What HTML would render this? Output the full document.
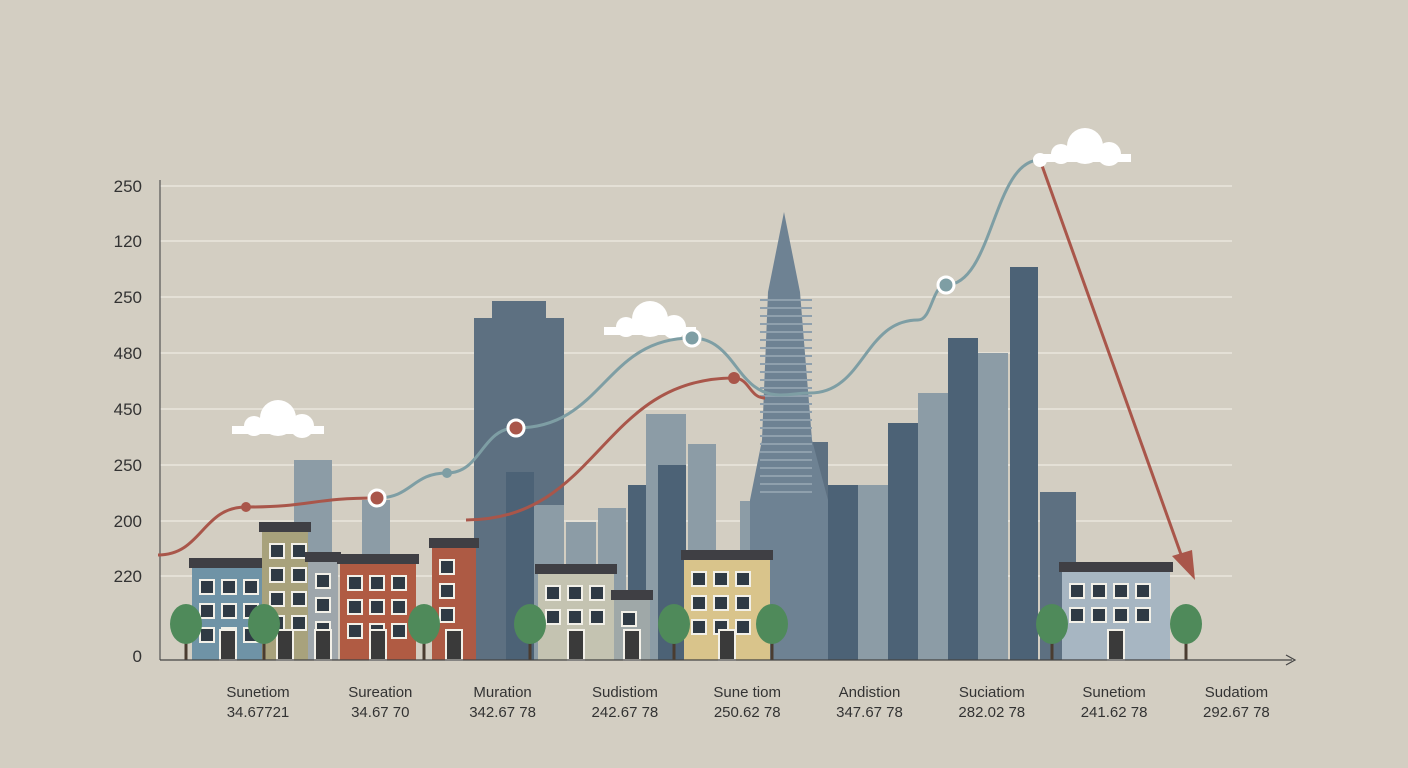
<!DOCTYPE html>
<html><head><meta charset="utf-8"><style>
body{margin:0;background:#d3cec2;}
svg{display:block;font-family:"Liberation Sans",sans-serif;}
</style></head><body>
<svg id="c" width="1408" height="768" viewBox="0 0 1408 768"></svg>
<script>
const yTickLabels=["250","120","250","480","450","250","200","220","0"];
const catNames=["Sunetiom","Sureation","Muration","Sudistiom","Sune tiom","Andistion","Suciatiom","Sunetiom","Sudatiom"];
const catValues=["34.67721","34.67 70","342.67 78","242.67 78","250.62 78","347.67 78","282.02 78","241.62 78","292.67 78"];
const barX=[294,362,474,492,506,534,566,598,628,646,658,688,740,770,798,828,858,888,918,948,978,1010,1040];
const barW=[38,28,90,54,28,30,30,28,28,40,28,28,30,28,30,30,30,30,30,30,30,28,36];
const barVal=[200,160,342,359,188,155,138,152,175,246,195,216,159,160,218,175,175,237,267,322,307,393,168];
const barTone=[1,1,0,0,2,1,1,1,2,1,2,1,1,2,0,2,1,2,1,2,1,2,0];
const blueX=[377,447,516,692,780,810,918,946,1040];
const blueV=[162,187,232,322,265,267,340,375,500];
const redX=[158,246,377];
const redV=[105,153,162];
const red2X=[466,734,765];
const red2V=[140,282,262];
const svg=document.getElementById('c');
const NS='http://www.w3.org/2000/svg';
const base=660;
const y=v=>base-v;
function mk(t,a,p){const e=document.createElementNS(NS,t);for(const k in a)e.setAttribute(k,a[k]);(p||svg).appendChild(e);return e;}
const tickY=[186,241,297,353,409,465,521,576,656];
yTickLabels.forEach((l,i)=>{
 if(i<8){const g=mk('line',{x1:160,x2:1232,y1:tickY[i],y2:tickY[i],stroke:'#e9e5dc','stroke-width':1.5});
 }
 const t=mk('text',{x:142,y:tickY[i]+6,'text-anchor':'end','font-size':17,fill:'#333'});t.textContent=l;
 
});
const a1=mk('line',{x1:160,y1:180,x2:160,y2:660,stroke:'#555','stroke-width':1.2});

const tones=['#5d7081','#8c9ca6','#4c6276'];
barX.forEach((x,i)=>{const r=mk('rect',{x:x,y:y(barVal[i]),width:barW[i],height:barVal[i],fill:tones[barTone[i]]});
 });
// tower
const tw=mk('polygon',{points:'784,212 800,292 812,440 828,500 828,660 750,660 750,500 762,440 768,292',fill:'#6e8293'});

for(let yy=300;yy<500;yy+=8){const s=mk('line',{x1:760,x2:812,y1:yy,y2:yy,stroke:'#8fa0ad','stroke-width':2});}
// houses
const houses=[[192,72,566,'#6f93a6'],[262,46,530,'#a8a27c'],[308,30,560,'#9ea6ab'],[340,76,562,'#b05b43'],[432,44,546,'#ad5a44'],[538,76,572,'#c4c3b1'],[614,36,598,'#9fa8a8'],[684,86,558,'#d9c48b'],[1062,108,570,'#a7b6c2']];
houses.forEach(h=>{const g=mk('g',{});
 mk('rect',{x:h[0],y:h[2],width:h[1],height:base-h[2],fill:h[3]},g);
 mk('rect',{x:h[0]-3,y:h[2]-8,width:h[1]+6,height:10,fill:'#3f3f44'},g);
 for(let yy=h[2]+14;yy<base-30;yy+=24)for(let xx=h[0]+8;xx<h[0]+h[1]-14;xx+=22)mk('rect',{x:xx,y:yy,width:14,height:14,fill:'#2f3a44',stroke:'#f2f0e8','stroke-width':2},g);
 mk('rect',{x:h[0]+h[1]/2-8,y:base-30,width:16,height:30,fill:'#3a3a3a',stroke:'#f2f0e8','stroke-width':2},g);});
[186,264,424,530,674,772,1052,1186].forEach(tx=>{const g=mk('g',{});
 mk('rect',{x:tx-1.5,y:630,width:3,height:30,fill:'#4a3c30'},g);mk('ellipse',{cx:tx,cy:624,rx:16,ry:20,fill:'#4f8a5a'},g);});
[[278,424],[650,325],[1085,152]].forEach(c=>{const g=mk('g',{fill:'#fff'});
 mk('circle',{cx:c[0],cy:c[1]-6,r:18},g);mk('circle',{cx:c[0]-24,cy:c[1]+2,r:10},g);mk('circle',{cx:c[0]+24,cy:c[1]+2,r:12},g);mk('rect',{x:c[0]-46,y:c[1]+2,width:92,height:8},g);});
function path(xs,vs,col,nm){let d='M'+xs[0]+','+y(vs[0]);for(let i=1;i<xs.length;i++){const mx=(xs[i-1]+xs[i])/2;d+=' C'+mx+','+y(vs[i-1])+' '+mx+','+y(vs[i])+' '+xs[i]+','+y(vs[i]);}
 const p=mk('path',{d:d,fill:'none',stroke:col,'stroke-width':3});}
path(blueX,blueV,'#7e9ea4','blue-line');path(redX,redV,'#a9564a','red-line');path(red2X,red2V,'#a9564a','red-line-2');
const ar=mk('path',{d:'M1040,160 L1183,560',stroke:'#a9564a','stroke-width':3,fill:'none'});
const ah=mk('polygon',{points:'1195,580 1172,556 1192,550',fill:'#a9564a'});
[[1,'#7e9ea4',5,false],[2,'#a9564a',8,true],[3,'#7e9ea4',8,true],[7,'#7e9ea4',8,true],[8,'#fff',7,false]].forEach(m=>{const c=mk('circle',{cx:blueX[m[0]],cy:y(blueV[m[0]]),r:m[2],fill:m[1],stroke:m[3]?'#fff':'none','stroke-width':3});});
[[1,5],[2,8]].forEach(m=>{const c=mk('circle',{cx:redX[m[0]],cy:y(redV[m[0]]),r:m[1],fill:'#a9564a',stroke:m[1]>6?'#fff':'none','stroke-width':3});});
const rp=mk('circle',{cx:red2X[1],cy:y(red2V[1]),r:6,fill:'#a9564a'});
const xa=mk('line',{x1:160,y1:660,x2:1292,y2:660,stroke:'#444','stroke-width':1.2});
const xh=mk('path',{d:'M1286,655 L1295,660 L1286,665',stroke:'#444',fill:'none','stroke-width':1.2});
catNames.forEach((n,i)=>{const cx=258+i*122.3;
 const t=mk('text',{x:cx,y:697,'text-anchor':'middle','font-size':15,fill:'#333'});t.textContent=n;
 const v=mk('text',{x:cx,y:717,'text-anchor':'middle','font-size':15,fill:'#333'});v.textContent=catValues[i];});
</script></body></html>
